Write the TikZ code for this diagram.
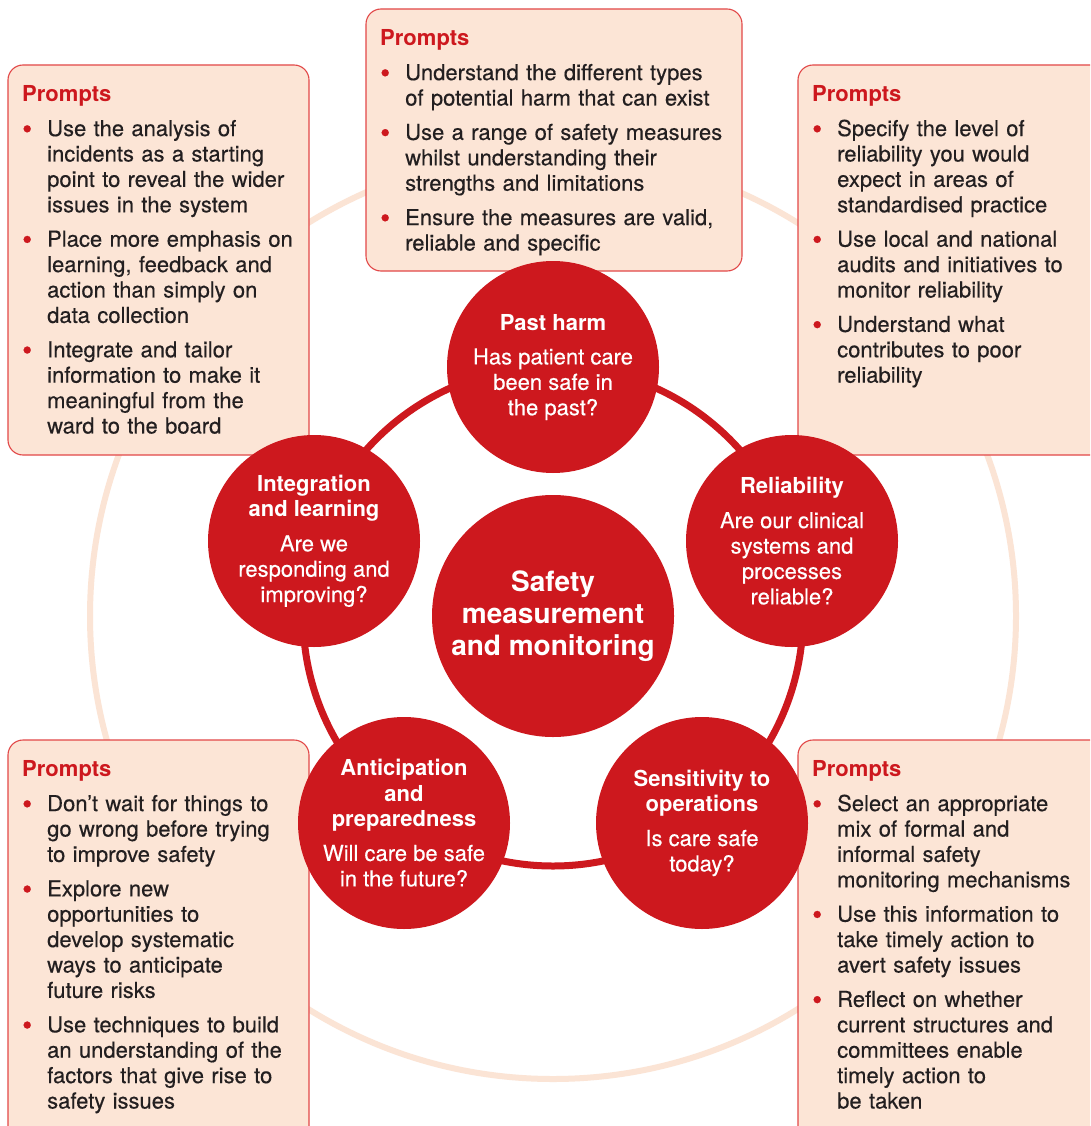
\documentclass[tikz,border=0pt]{standalone}
\usepackage{fontspec}
\setmainfont{TeX Gyre Heros}[UprightFeatures={FakeBold=0.35}]
\setlength\parskip{0pt}
\definecolor{cred}{RGB}{205,24,30}
\definecolor{cfill}{RGB}{252,229,214}
\definecolor{cline}{RGB}{226,72,72}
\definecolor{cring}{RGB}{251,228,213}
\definecolor{ctext}{RGB}{35,31,32}
% heading and bullet items of a prompt card
\newcommand\prompthead{\noindent\textcolor{cred}{\bfseries Prompts}}
\newcommand\promptitem{\par\vspace{9pt}\noindent\hangindent=25pt\hangafter=1%
  \makebox[25pt][l]{\textcolor{cred}{\raisebox{-2.6pt}{\scalebox{1.3}{•}}}}}
\tikzset{
  card/.style={fill=cfill, draw=cline, line width=1.1pt, rounded corners=15pt},
  prompts/.style={anchor=base west, inner sep=0pt, text width=#1, align=left,
    text=ctext, font=\fontsize{22}{25.4}\selectfont},
  hub/.style={circle, fill=cred, text=white, minimum size=212pt, inner sep=0pt,
    align=center, font=\fontsize{22}{25.4}\selectfont},
  core/.style={circle, fill=cred, text=white, minimum size=242pt, inner sep=0pt,
    align=center, font=\fontsize{28}{32}\selectfont\bfseries}
}
\begin{document}
\begin{tikzpicture}[x=1pt,y=-1pt]
\clip (0,0) rectangle (1090,1126);
\fill[white] (0,0) rectangle (1090,1126);
\coordinate (o) at (553,616);

% faint outer ring
\draw[cring, line width=6pt] (o) circle (463);

% prompt cards
\draw[card] (366,9) rectangle (742,271);
\draw[card] (8,65) rectangle (309,455);
\draw[card] (798,65) rectangle (1110,455);
\draw[card] (8,740) rectangle (309,1150);
\draw[card] (798,740) rectangle (1110,1150);

\node[prompts=350pt] (ptop) at (380,45.7) {\prompthead
  \promptitem Understand the different types\newline of potential harm that can exist
  \promptitem Use a range of safety measures\newline whilst understanding their\newline strengths and limitations
  \promptitem Ensure the measures are valid,\newline reliable and specific\par};

\node[prompts=290pt] (pleft) at (22,101.7) {\prompthead
  \promptitem Use the analysis of\newline incidents as a starting\newline point to reveal the wider\newline issues in the system
  \promptitem Place more emphasis on\newline learning, feedback and\newline action than simply on\newline data collection
  \promptitem Integrate and tailor\newline information to make it\newline meaningful from the\newline ward to the board\par};

\node[prompts=290pt] (pright) at (812,101.7) {\prompthead
  \promptitem Specify the level of\newline reliability you would\newline expect in areas of\newline standardised practice
  \promptitem Use local and national\newline audits and initiatives to\newline monitor reliability
  \promptitem Understand what\newline contributes to poor\newline reliability\par};

\node[prompts=290pt] (pbl) at (22,776.7) {\prompthead
  \promptitem Don't wait for things to\newline go wrong before trying\newline to improve safety
  \promptitem Explore new\newline opportunities to\newline develop systematic\newline ways to anticipate\newline future risks
  \promptitem Use techniques to build\newline an understanding of the\newline factors that give rise to\newline safety issues\par};

\node[prompts=290pt] (pbr) at (812,776.7) {\prompthead
  \promptitem Select an appropriate\newline mix of formal and\newline informal safety\newline monitoring mechanisms
  \promptitem Use this information to\newline take timely action to\newline avert safety issues
  \promptitem Reflect on whether\newline current structures and\newline committees enable\newline timely action to\newline be taken\par};

% red ring linking the five dimensions
\draw[cred, line width=7pt] (o) circle (250);

\node[core] (core) at (o) {Safety\\measurement\\and monitoring};

\node[hub] (past) at (553,367) {\textbf{Past harm}\\[9pt]Has patient care\\been safe in\\the past?};
\node[hub] (rel) at (792,541) {\textbf{Reliability}\\[9pt]Are our clinical\\systems and\\processes\\reliable?};
\node[hub] (sens) at (702,823) {\textbf{Sensitivity to}\\\textbf{operations}\\[9pt]Is care safe\\today?};
\node[hub] (ant) at (404,823) {\textbf{Anticipation}\\\textbf{and}\\\textbf{preparedness}\\[9pt]Will care be safe\\in the future?};
\node[hub] (integ) at (314,541) {\textbf{Integration}\\\textbf{and learning}\\[9pt]Are we\\responding and\\improving?};
\end{tikzpicture}
\end{document}
